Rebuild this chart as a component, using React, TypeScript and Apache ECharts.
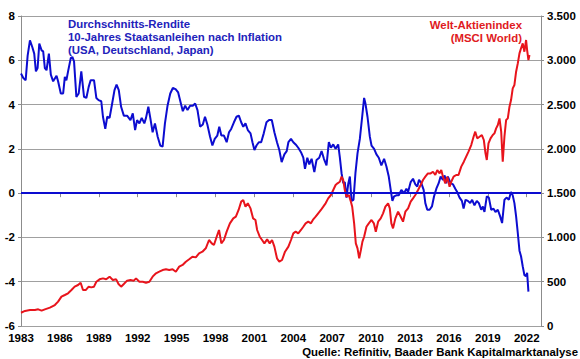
import React, { useEffect, useRef } from "react";
import * as echarts from "echarts";

const FONT = '"Liberation Sans", Arial, Helvetica, sans-serif';

// Real 10Y yield (average USA, Germany, Japan), % — left axis
const blueYears = [
  1983.0, 1983.18, 1983.36, 1983.51, 1983.69, 1983.87, 1984.02, 1984.15, 1984.28, 1984.41,
  1984.59, 1984.71, 1984.84, 1984.97, 1985.15, 1985.3, 1985.48, 1985.74, 1985.86, 1986.07,
  1986.25, 1986.38, 1986.5, 1986.63, 1986.84, 1986.96, 1987.09, 1987.27, 1987.45, 1987.65,
  1987.86, 1988.04, 1988.22, 1988.37, 1988.63, 1988.81, 1988.98, 1989.19, 1989.32, 1989.5,
  1989.65, 1989.83, 1990.03, 1990.21, 1990.37, 1990.54, 1990.72, 1990.93, 1991.18, 1991.44,
  1991.62, 1991.8, 1991.95, 1992.13, 1992.31, 1992.51, 1992.64, 1992.82, 1992.97, 1993.15,
  1993.33, 1993.54, 1993.74, 1993.92, 1994.1, 1994.3, 1994.51, 1994.71, 1994.92, 1995.12,
  1995.33, 1995.48, 1995.66, 1995.84, 1996.04, 1996.25, 1996.43, 1996.61, 1996.81, 1997.02,
  1997.19, 1997.37, 1997.58, 1997.76, 1997.94, 1998.14, 1998.29, 1998.45, 1998.65, 1998.86,
  1999.04, 1999.21, 1999.42, 1999.62, 1999.8, 1999.98, 2000.14, 2000.31, 2000.49, 2000.7,
  2000.85, 2001.0, 2001.16, 2001.34, 2001.52, 2001.72, 2001.93, 2002.13, 2002.34, 2002.54,
  2002.74, 2002.92, 2003.1, 2003.31, 2003.49, 2003.62, 2003.82, 2004.0, 2004.18, 2004.38,
  2004.59, 2004.77, 2004.9, 2005.08, 2005.23, 2005.41, 2005.62, 2005.79, 2006.0, 2006.18,
  2006.36, 2006.56, 2006.74, 2006.9, 2007.08, 2007.26, 2007.46, 2007.59, 2007.72, 2007.85,
  2007.97, 2008.1, 2008.23, 2008.36, 2008.49, 2008.64, 2008.79, 2008.95, 2009.13, 2009.31,
  2009.46, 2009.56, 2009.72, 2009.9, 2010.03, 2010.23, 2010.41, 2010.59, 2010.79, 2011.0,
  2011.18, 2011.36, 2011.51, 2011.64, 2011.77, 2011.95, 2012.13, 2012.33, 2012.54, 2012.72,
  2012.85, 2013.05, 2013.23, 2013.41, 2013.56, 2013.69, 2013.87, 2014.05, 2014.18, 2014.33,
  2014.51, 2014.69, 2014.85, 2015.03, 2015.21, 2015.36, 2015.54, 2015.67, 2015.79, 2015.92,
  2016.13, 2016.31, 2016.49, 2016.64, 2016.82, 2017.0, 2017.13, 2017.28, 2017.46, 2017.64,
  2017.79, 2017.97, 2018.15, 2018.31, 2018.49, 2018.62, 2018.74, 2018.92, 2019.08, 2019.26,
  2019.44, 2019.59, 2019.77, 2019.95, 2020.1, 2020.28, 2020.46, 2020.62, 2020.79, 2020.92,
  2021.05, 2021.18, 2021.31, 2021.44, 2021.56, 2021.69, 2021.82, 2021.95, 2022.03, 2022.13,
];
const blueValues = [
  5.4, 5.2, 5.1, 6.2, 6.9, 6.6, 6.3, 5.5, 5.65, 6.75,
  6.45, 6.4, 5.65, 5.55, 6.3, 5.35, 5.05, 5.3, 5.05, 4.5,
  4.5, 5.25, 5.1, 5.5, 6.1, 6.15, 5.95, 4.35, 4.5, 5.5,
  4.35, 4.3, 4.8, 5.1, 5.1, 4.3, 4.2, 4.15, 3.45, 2.9,
  3.45, 3.4, 4.05, 4.65, 4.9, 4.65, 3.9, 3.5, 3.5, 3.3,
  3.6, 2.85, 3.3, 3.15, 3.4, 3.15, 3.4, 3.9, 3.4, 2.75,
  3.15, 2.55, 2.15, 2.1, 3.15, 3.95, 4.5, 4.75, 4.7, 4.55,
  4.05, 3.7, 3.95, 3.75, 3.95, 3.95, 4.05, 3.75, 3.0, 3.1,
  3.45, 3.1, 2.55, 2.15, 2.45, 2.6, 3.0, 2.6, 2.6, 2.3,
  2.75, 2.9, 3.2, 3.45, 3.5, 3.2, 3.0, 3.15, 2.85, 2.7,
  2.3, 1.95, 2.15, 2.3, 2.3, 2.7, 3.2, 3.3, 3.3, 2.75,
  2.3, 1.95, 1.4, 1.75, 1.9, 2.3, 2.45, 2.3, 2.2, 2.05,
  1.85, 1.6, 1.1, 1.6, 1.3, 1.55, 0.95, 1.5, 1.6, 1.9,
  1.55, 1.25, 2.3, 2.05, 2.2, 2.0, 2.2, 1.6, 0.9, 0.45,
  0.5, -0.2, 0.4, 0.75, -0.35, -0.3, 0.9, 1.8, 2.45, 3.45,
  4.3, 4.05, 3.45, 2.55, 2.15, 2.0, 1.75, 1.6, 1.25, 1.55,
  1.2, 0.75, 0.15, -0.35, -0.15, -0.1, -0.1, 0.15, 0.0, 0.2,
  0.05, 0.5, 0.65, 0.4, 0.3, 0.6, 0.45, 0.15, -0.45, -0.75,
  -0.75, -0.6, -0.15, 0.2, 0.45, 0.75, 0.6, 0.8, 0.45, 0.75,
  0.45, 0.4, 0.2, 0.05, -0.2, -0.35, -0.7, -0.3, -0.35, -0.45,
  -0.3, -0.55, -0.35, -0.45, -0.75, -0.6, -0.85, -0.15, -0.2, -0.75,
  -0.7, -0.85, -0.75, -1.05, -1.35, -0.3, -0.2, -0.3, 0.05, -0.1,
  -0.45, -1.05, -1.8, -2.6, -2.85, -3.3, -3.7, -3.75, -3.6, -4.45,
];

// MSCI World index — right axis
const redYears = [
  1983.0, 1983.31, 1983.69, 1984.07, 1984.33, 1984.59, 1984.84, 1985.23, 1985.61, 1985.86,
  1986.12, 1986.38, 1986.63, 1986.89, 1987.14, 1987.4, 1987.6, 1987.78, 1987.99, 1988.22,
  1988.42, 1988.63, 1988.81, 1989.06, 1989.32, 1989.57, 1989.83, 1990.08, 1990.34, 1990.52,
  1990.72, 1990.93, 1991.18, 1991.44, 1991.7, 1991.87, 1992.13, 1992.39, 1992.64, 1992.9,
  1993.15, 1993.41, 1993.66, 1993.92, 1994.18, 1994.43, 1994.69, 1994.94, 1995.2, 1995.46,
  1995.71, 1995.97, 1996.22, 1996.48, 1996.73, 1996.99, 1997.25, 1997.5, 1997.71, 1997.88,
  1998.09, 1998.27, 1998.45, 1998.65, 1998.86, 1999.11, 1999.37, 1999.57, 1999.78, 1999.98,
  2000.14, 2000.31, 2000.49, 2000.7, 2000.9, 2001.08, 2001.21, 2001.41, 2001.59, 2001.77,
  2001.98, 2002.18, 2002.36, 2002.54, 2002.74, 2002.92, 2003.13, 2003.36, 2003.62, 2003.82,
  2004.0, 2004.18, 2004.38, 2004.59, 2004.77, 2004.95, 2005.15, 2005.36, 2005.54, 2005.72,
  2005.92, 2006.13, 2006.31, 2006.49, 2006.69, 2006.9, 2007.08, 2007.26, 2007.41, 2007.59,
  2007.72, 2007.85, 2007.97, 2008.1, 2008.28, 2008.44, 2008.54, 2008.69, 2008.82, 2008.95,
  2009.08, 2009.21, 2009.33, 2009.46, 2009.64, 2009.82, 2010.03, 2010.21, 2010.36, 2010.54,
  2010.74, 2010.92, 2011.1, 2011.31, 2011.44, 2011.56, 2011.69, 2011.87, 2012.08, 2012.28,
  2012.46, 2012.64, 2012.85, 2013.05, 2013.23, 2013.41, 2013.62, 2013.82, 2014.0, 2014.18,
  2014.38, 2014.59, 2014.77, 2014.95, 2015.1, 2015.28, 2015.41, 2015.54, 2015.72, 2015.87,
  2016.05, 2016.18, 2016.36, 2016.56, 2016.74, 2016.95, 2017.15, 2017.33, 2017.51, 2017.72,
  2017.9, 2018.03, 2018.18, 2018.36, 2018.54, 2018.69, 2018.82, 2018.92, 2019.05, 2019.21,
  2019.38, 2019.51, 2019.64, 2019.77, 2019.9, 2020.03, 2020.15, 2020.28, 2020.41, 2020.54,
  2020.67, 2020.79, 2020.92, 2021.05, 2021.18, 2021.31, 2021.44, 2021.56, 2021.69, 2021.82,
  2021.95, 2022.03, 2022.13, 2022.21,
];
const redValues = [
  150, 170, 180, 180, 188, 173, 188, 207, 237, 275,
  331, 350, 369, 406, 444, 463, 489, 406, 406, 444,
  436, 444, 500, 527, 538, 527, 557, 519, 527, 474,
  444, 474, 512, 519, 512, 538, 500, 500, 489, 500,
  557, 595, 613, 632, 640, 632, 640, 613, 670, 689,
  726, 753, 783, 775, 820, 839, 877, 971, 933, 914,
  1008, 1084, 933, 971, 1065, 1159, 1215, 1234, 1310, 1404,
  1422, 1347, 1385, 1328, 1215, 1197, 1084, 1008, 971, 933,
  978, 933, 971, 896, 764, 726, 745, 839, 896, 971,
  1046, 1065, 1046, 1084, 1121, 1159, 1178, 1159, 1204, 1234,
  1272, 1310, 1347, 1385, 1441, 1479, 1535, 1592, 1611, 1629,
  1686, 1648, 1535, 1460, 1479, 1404, 1347, 1159, 933, 877,
  764, 858, 952, 1008, 1121, 1159, 1197, 1159, 1065, 1178,
  1215, 1272, 1347, 1385, 1328, 1159, 1103, 1215, 1291, 1234,
  1178, 1291, 1328, 1404, 1441, 1479, 1535, 1592, 1648, 1686,
  1723, 1723, 1742, 1705, 1761, 1723, 1761, 1686, 1611, 1686,
  1573, 1629, 1686, 1705, 1705, 1799, 1855, 1912, 1968, 2043,
  2137, 2194, 2119, 2137, 2156, 2100, 1949, 1874, 2062, 2119,
  2156, 2175, 2231, 2269, 2344, 2194, 1855, 2137, 2326, 2344,
  2476, 2551, 2683, 2721, 2871, 2965, 3078, 3135, 3191, 3097,
  3229, 3116, 3003, 3059,
];

const xTickYears = [1983, 1986, 1989, 1992, 1995, 1998, 2001, 2004, 2007, 2010, 2013, 2016, 2019, 2022];

const blueTitle = ["Durchschnitts-Rendite", "10-Jahres Staatsanleihen nach Inflation", "(USA, Deutschland, Japan)"];
const redTitle = ["Welt-Aktienindex", "(MSCI World)"];
const sourceText = "Quelle: Refinitiv, Baader Bank Kapitalmarktanalyse";

const BLUE = "#0c0cd0";
const BLUE_TEXT = "#2222bb";
const RED = "#e8141c";
const RED_TEXT = "#e01a22";
const GRID = "#a0a0a0";
const AXIS = "#8c8c8c";

function fmtThousands(v: number): string {
  if (v < 1000) return String(v);
  const th = Math.floor(v / 1000);
  const rest = String(v % 1000).padStart(3, "0");
  return th + "." + rest;
}

export default function App() {
  const ref = useRef<HTMLDivElement>(null);
  useEffect(() => {
    if (!ref.current) return;
    const chart = echarts.init(ref.current, undefined, { renderer: "svg" });
    const labelStyle = {
      color: "#000",
      fontWeight: "bold" as const,
      fontSize: 11.5,
      fontFamily: FONT,
    };
    const txt = (text: string, x: number, y: number, fill: string, align: string) => ({
      type: "text",
      x,
      y,
      silent: true,
      style: {
        text,
        fill,
        font: `bold 11.4px ${FONT}`,
        textAlign: align,
        textVerticalAlign: "middle",
      },
    });
    chart.setOption({
      animation: false,
      backgroundColor: "#fff",
      grid: { left: 21, right: 39, top: 16, bottom: 33, containLabel: false },
      xAxis: {
        type: "value",
        min: 1983,
        max: 2023.1,
        interval: 3,
        axisLine: { show: true, lineStyle: { color: AXIS, width: 1 } },
        axisTick: { show: true, length: 4, lineStyle: { color: AXIS } },
        splitLine: { show: false },
        axisLabel: {
          ...labelStyle,
          margin: 6,
          formatter: (v: number) => (xTickYears.includes(Math.round(v * 1000) / 1000) ? String(v) : ""),
        },
      },
      yAxis: [
        {
          type: "value",
          min: -6,
          max: 8,
          interval: 2,
          axisLine: { show: true, lineStyle: { color: AXIS, width: 1 } },
          axisTick: { show: true, length: 3, lineStyle: { color: AXIS } },
          splitLine: { show: true, lineStyle: { color: GRID, width: 1.2 } },
          axisLabel: { ...labelStyle, margin: 6 },
        },
        {
          type: "value",
          min: 0,
          max: 3500,
          interval: 500,
          position: "right",
          axisLine: { show: true, lineStyle: { color: AXIS, width: 1 } },
          axisTick: { show: true, length: 3, lineStyle: { color: AXIS } },
          splitLine: { show: false },
          axisLabel: { ...labelStyle, margin: 6, formatter: (v: number) => fmtThousands(v) },
        },
      ],
      series: [
        {
          name: "Rendite",
          type: "line",
          yAxisIndex: 0,
          showSymbol: false,
          symbol: "none",
          lineStyle: { color: BLUE, width: 2 },
          data: blueYears.map((y, i) => [y, blueValues[i]]),
          markLine: {
            silent: true,
            symbol: ["none", "none"],
            label: { show: false },
            lineStyle: { color: BLUE, width: 2, type: "solid" },
            data: [{ yAxis: 0 }],
          },
        },
        {
          name: "MSCI World",
          type: "line",
          yAxisIndex: 1,
          showSymbol: false,
          symbol: "none",
          lineStyle: { color: RED, width: 2 },
          data: redYears.map((y, i) => [y, redValues[i]]),
        },
      ],
      graphic: [
        txt(blueTitle[0], 68, 24, BLUE_TEXT, "left"),
        txt(blueTitle[1], 68, 37, BLUE_TEXT, "left"),
        txt(blueTitle[2], 68, 50, BLUE_TEXT, "left"),
        txt(redTitle[0], 522, 25, RED_TEXT, "right"),
        txt(redTitle[1], 522, 38, RED_TEXT, "right"),
        txt(sourceText, 578, 352, "#000", "right"),
      ],
    });
    return () => chart.dispose();
  }, []);
  return (
    <div
      ref={ref}
      style={{ position: "fixed", left: 0, top: 0, width: 580, height: 359, background: "#fff" }}
    />
  );
}
